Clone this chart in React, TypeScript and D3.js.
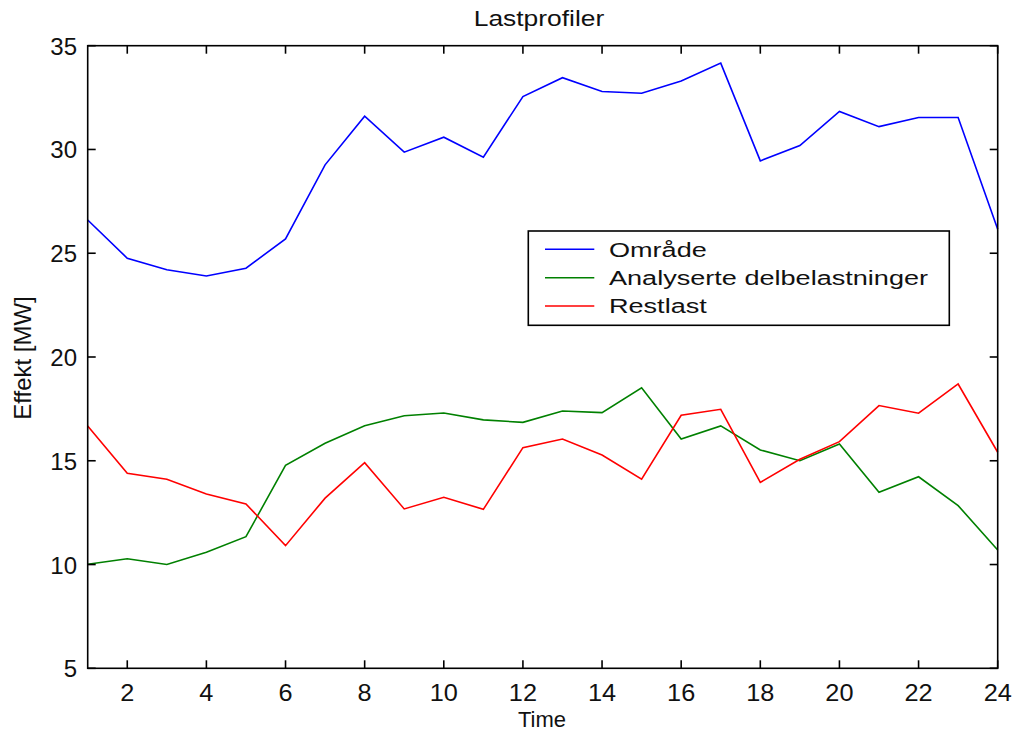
import React from "react";
import * as d3 from "d3";

const hours = [1,2,3,4,5,6,7,8,9,10,11,12,13,14,15,16,17,18,19,20,21,22,23,24];
const omrade = [26.6,24.76,24.2,23.9,24.28,25.69,29.26,31.6,29.87,30.59,29.63,32.55,33.46,32.79,32.71,33.3,34.16,29.45,30.19,31.83,31.1,31.54,31.54,26.16];
const analyserte = [10.01,10.28,10.0,10.59,11.34,14.78,15.84,16.69,17.17,17.3,16.97,16.85,17.4,17.32,18.52,16.05,16.68,15.52,15.0,15.81,13.48,14.23,12.84,10.7];
const restlast = [16.68,14.4,14.11,13.4,12.92,10.91,13.2,14.91,12.68,13.24,12.66,15.63,16.05,15.28,14.11,17.19,17.48,13.96,15.07,15.92,17.66,17.29,18.7,15.41];
const seriesNames = ["Område", "Analyserte delbelastninger", "Restlast"];
const seriesColors = ["#0000ff", "#008000", "#ff0000"];
const xTicks = [2,4,6,8,10,12,14,16,18,20,22,24];
const yTicks = [5,10,15,20,25,30,35];
const title = "Lastprofiler";
const xLabel = "Time";
const yLabel = "Effekt [MW]";

export default function App() {
  const W = 1013, H = 733;
  const L = 87.7, R = 997.7, T = 45.7, B = 668.3;
  const x = d3.scaleLinear().domain([1, 24]).range([L, R]);
  const y = d3.scaleLinear().domain([5, 35]).range([B, T]);
  const line = d3.line<number>().x((_, i) => x(hours[i])).y((d) => y(d));
  const data = [omrade, analyserte, restlast];
  const font = "'Liberation Sans', Arial, sans-serif";
  const tk = 8;
  const legX = 528.3, legY = 231, legW = 421, legH = 94.3;
  const rowY = [249.3, 277.7, 306];
  return (
    <svg width={W} height={H} style={{ position: "absolute", left: 0, top: 0, background: "#fff" }} fontFamily={font}>
      <rect x={0} y={0} width={W} height={H} fill="#fff" />
      {data.map((s, i) => (
        <path key={i} d={line(s) || ""} fill="none" stroke={seriesColors[i]} strokeWidth={1.6} />
      ))}
      <rect x={L} y={T} width={R - L} height={B - T} fill="none" stroke="#000" strokeWidth={1.6} />
      {xTicks.map((t) => (
        <g key={"x" + t}>
          <line x1={x(t)} x2={x(t)} y1={B} y2={B - tk} stroke="#000" strokeWidth={1.6} />
          <line x1={x(t)} x2={x(t)} y1={T} y2={T + tk} stroke="#000" strokeWidth={1.6} />
          <text x={x(t)} y={701} textAnchor="middle" fontSize={23} fill="#111" transform={`translate(${x(t)},0) scale(1.1,1) translate(${-x(t)},0)`}>{t}</text>
        </g>
      ))}
      {yTicks.map((t) => (
        <g key={"y" + t}>
          <line x1={L} x2={L + tk} y1={y(t)} y2={y(t)} stroke="#000" strokeWidth={1.6} />
          <line x1={R} x2={R - tk} y1={y(t)} y2={y(t)} stroke="#000" strokeWidth={1.6} />
          <text x={77} y={y(t) + 9} textAnchor="end" fontSize={24} fill="#111">{t}</text>
        </g>
      ))}
      <text x={539} y={26} textAnchor="middle" fontSize={22} fill="#111" transform="translate(539,0) scale(1.2,1) translate(-539,0)">{title}</text>
      <text x={542} y={727} textAnchor="middle" fontSize={22} fill="#111">{xLabel}</text>
      <text transform="translate(31,358) rotate(-90)" textAnchor="middle" fontSize={24} fill="#111">{yLabel}</text>
      <rect x={legX} y={legY} width={legW} height={legH} fill="#fff" stroke="#000" strokeWidth={1.6} />
      {seriesNames.map((n, i) => (
        <g key={n}>
          <line x1={545} x2={594.3} y1={rowY[i]} y2={rowY[i]} stroke={seriesColors[i]} strokeWidth={1.6} />
          <text x={609} y={rowY[i] + 7.5} fontSize={21} fill="#111" transform="translate(609,0) scale(1.29,1) translate(-609,0)">{n}</text>
        </g>
      ))}
    </svg>
  );
}
